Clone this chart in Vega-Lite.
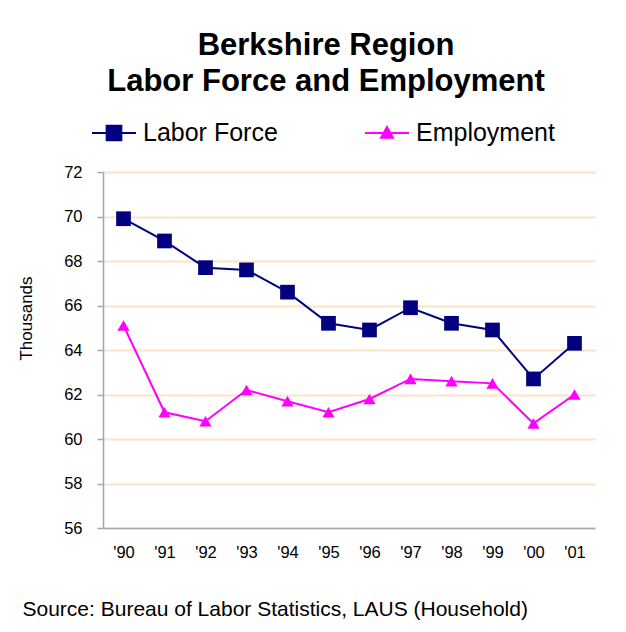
{
  "$schema": "https://vega.github.io/schema/vega-lite/v6.json",
  "width": 492,
  "height": 356,
  "autosize": "none",
  "padding": {"left": 103, "top": 172, "right": 31, "bottom": 104},
  "background": "white",
  "config": {"font": "Liberation Sans", "view": {"stroke": null}},
  "title": {
    "text": ["Berkshire Region", "Labor Force and Employment"],
    "font": "Liberation Sans",
    "fontSize": 31,
    "fontWeight": "bold",
    "color": "black",
    "lineHeight": 36,
    "anchor": "middle",
    "dx": -23,
    "offset": 12
  },
  "data": {
    "values": [
      {"year": "'90", "series": "Labor Force", "value": 69.9},
      {"year": "'91", "series": "Labor Force", "value": 68.9},
      {"year": "'92", "series": "Labor Force", "value": 67.7},
      {"year": "'93", "series": "Labor Force", "value": 67.6},
      {"year": "'94", "series": "Labor Force", "value": 66.6},
      {"year": "'95", "series": "Labor Force", "value": 65.2},
      {"year": "'96", "series": "Labor Force", "value": 64.9},
      {"year": "'97", "series": "Labor Force", "value": 65.9},
      {"year": "'98", "series": "Labor Force", "value": 65.2},
      {"year": "'99", "series": "Labor Force", "value": 64.9},
      {"year": "'00", "series": "Labor Force", "value": 62.7},
      {"year": "'01", "series": "Labor Force", "value": 64.3},
      {"year": "'90", "series": "Employment", "value": 65.1},
      {"year": "'91", "series": "Employment", "value": 61.2},
      {"year": "'92", "series": "Employment", "value": 60.8},
      {"year": "'93", "series": "Employment", "value": 62.2},
      {"year": "'94", "series": "Employment", "value": 61.7},
      {"year": "'95", "series": "Employment", "value": 61.2},
      {"year": "'96", "series": "Employment", "value": 61.8},
      {"year": "'97", "series": "Employment", "value": 62.7},
      {"year": "'98", "series": "Employment", "value": 62.6},
      {"year": "'99", "series": "Employment", "value": 62.5},
      {"year": "'00", "series": "Employment", "value": 60.7},
      {"year": "'01", "series": "Employment", "value": 62.0}
    ]
  },
  "encoding": {
    "x": {
      "field": "year",
      "type": "ordinal",
      "sort": null,
      "axis": {
        "title": "Source: Bureau of Labor Statistics, LAUS (Household)",
        "titleFont": "Liberation Sans",
        "titleFontSize": 21,
        "titleFontWeight": "normal",
        "titleColor": "black",
        "titleAnchor": "start",
        "titleAlign": "left",
        "titleX": -81,
        "titleY": 87,
        "titleBaseline": "alphabetic",
        "labelAngle": 0,
        "labelFont": "Liberation Sans",
        "labelFontSize": 16.5,
        "labelColor": "black",
        "labelPadding": 16,
        "ticks": false,
        "domainColor": "#a6a6a6",
        "domainWidth": 1.5,
        "grid": false
      }
    },
    "y": {
      "field": "value",
      "type": "quantitative",
      "scale": {"domain": [56, 72], "nice": false, "zero": false},
      "axis": {
        "title": "Thousands",
        "titleFont": "Liberation Sans",
        "titleFontSize": 17,
        "titleFontWeight": "normal",
        "titleColor": "black",
        "titleX": -77,
        "titleY": 146,
        "titleAngle": -90,
        "titleBaseline": "middle",
        "titleAlign": "center",
        "values": [56, 58, 60, 62, 64, 66, 68, 70, 72],
        "labelFont": "Liberation Sans",
        "labelFontSize": 16.5,
        "labelColor": "black",
        "labelPadding": 15,
        "tickSize": 6,
        "tickColor": "#a6a6a6",
        "tickWidth": 1.5,
        "domainColor": "#a6a6a6",
        "domainWidth": 1.5,
        "grid": true,
        "gridColor": "#fde4c8",
        "gridWidth": 2
      }
    },
    "color": {
      "field": "series",
      "type": "nominal",
      "scale": {"domain": ["Labor Force", "Employment"], "range": ["#000080", "#ff00ff"]},
      "legend": {
        "orient": "none",
        "direction": "horizontal",
        "legendX": -12,
        "legendY": -62,
        "title": null,
        "padding": 0,
        "symbolSize": 1936,
        "symbolStrokeWidth": 2,
        "labelFont": "Liberation Sans",
        "labelFontSize": 25,
        "labelColor": "black",
        "labelOffset": 6,
        "labelLimit": 300,
        "columnPadding": 83,
        "encode": {
          "symbols": {
            "update": {
              "shape": {"signal": "datum.value === 'Labor Force' ? 'M-1,0H1M-0.334,-0.334H0.334V0.334H-0.334Z' : 'M-1,0H1M0,-0.27L0.27,0.22H-0.27Z'"},
              "size": {"value": 1936},
              "strokeWidth": {"value": 2},
              "opacity": {"value": 1}
            }
          }
        }
      }
    }
  },
  "layer": [
    {"mark": {"type": "line", "strokeWidth": 2}},
    {
      "mark": {"type": "point", "filled": true, "opacity": 1},
      "encoding": {
        "shape": {
          "field": "series",
          "type": "nominal",
          "scale": {"domain": ["Employment", "Labor Force"], "range": ["triangle-up", "square"]},
          "legend": null
        },
        "size": {
          "field": "series",
          "type": "ordinal",
          "scale": {"domain": ["Employment", "Labor Force"], "range": [150, 216]},
          "legend": null
        }
      }
    }
  ]
}
